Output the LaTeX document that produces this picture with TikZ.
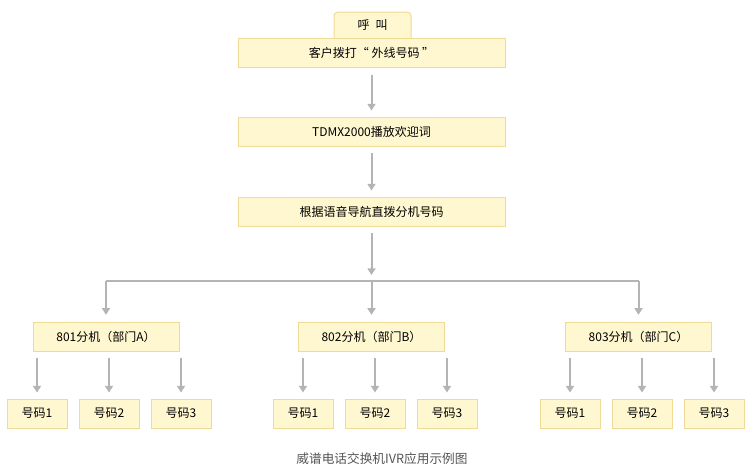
\documentclass[tikz,border=0pt]{standalone}
\usepackage{fontspec}
\setmainfont{Noto Sans CJK SC}
\usepackage{xcolor}
\usetikzlibrary{arrows.meta,calc}

\definecolor{boxfill}{RGB}{255,247,208}
\definecolor{boxline}{RGB}{240,218,150}
\definecolor{arrgray}{RGB}{180,180,180}
\definecolor{capgray}{RGB}{85,85,85}

\tikzset{
  stepbox/.style={draw=boxline,fill=boxfill,line width=0.75pt,inner sep=0pt,
    minimum height=21.75pt,font=\fontsize{9}{11}\selectfont},
  widebox/.style={stepbox,minimum width=200.25pt},
  extbox/.style={stepbox,minimum width=109.5pt},
  leafbox/.style={stepbox,minimum width=45pt},
  flow/.style={draw=arrgray,line width=1.5pt,-{Triangle[width=6pt,length=5pt]},
    shorten <=5pt,shorten >=4.5pt},
  drop/.style={draw=arrgray,line width=1.5pt,-{Triangle[width=6pt,length=5pt]},
    shorten >=5pt},
  busline/.style={draw=arrgray,line width=0.9pt}
}

\begin{document}
\begin{tikzpicture}[x=0.75pt,y=0.75pt,yscale=-1,xscale=1]
\useasboundingbox (0,0) rectangle (753,472);

% Tab
\node [stepbox,rounded corners=3pt,minimum width=57.75pt,minimum height=22.5pt] (tab) at (372.5,27) {};
% Main steps
\node [widebox] (call) at (371.5,53) {客户拨打“ 外线号码 ”};
\node [anchor=center,inner sep=0pt,font=\fontsize{9}{11}\selectfont] (tabtxt) at (372.5,25) {呼\hspace{0.5em}叫};
\node [widebox] (greet) at (371.5,131.5) {TDMX2000播放欢迎词};
\node [widebox] (dial) at (371.5,211.5) {根据语音导航直拨分机号码};

% Extensions
\node [extbox] (extA) at (106,336.5) {801分机（部门A）};
\node [extbox] (extB) at (371.5,336.5) {802分机（部门B）};
\node [extbox] (extC) at (638.5,336.5) {803分机（部门C）};

% Numbers
\foreach \e/\xa/\xb/\xc in {A/37/109/181, B/303/375/447, C/570/642/714}{
  \node [leafbox] (num\e1) at (\xa,413.5) {号码1};
  \node [leafbox] (num\e2) at (\xb,413.5) {号码2};
  \node [leafbox] (num\e3) at (\xc,413.5) {号码3};
  \foreach \k in {1,2,3}
    \draw [flow] (ext\e.south -| num\e\k) -- (num\e\k.north);
}

% Arrows
\draw [flow] (call) -- (greet);
\draw [flow] (greet) -- (dial);
\coordinate (bus) at (371.5,281);
\draw [flow] (dial) -- (bus);
\draw [busline] (extA.north |- bus) -- (extC.north |- bus);
\draw [drop] (extA.north |- bus) -- (extA.north);
\draw [drop] (extB.north |- bus) -- (extB.north);
\draw [drop] (extC.north |- bus) -- (extC.north);

% Caption
\node [text=capgray,font=\fontsize{9.5}{11}\selectfont] (cap) at (382,459) {威谱电话交换机IVR应用示例图};

\end{tikzpicture}
\end{document}
